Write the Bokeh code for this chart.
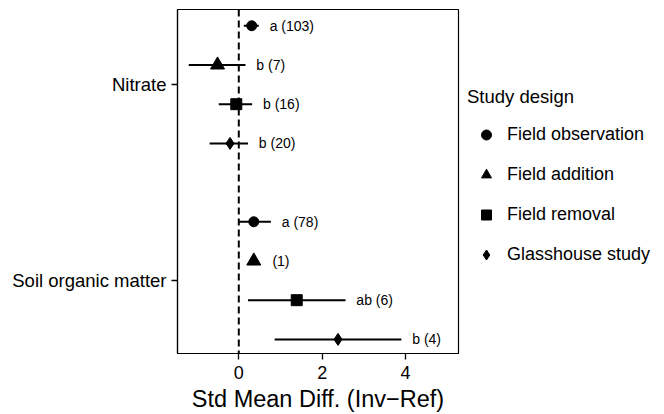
import numpy as np
from bokeh.plotting import figure
from bokeh.models import ColumnDataSource, Range1d, FixedTicker, Span, Legend, LegendItem
from bokeh.embed import file_html
from bokeh.resources import INLINE

# ---- data ----
outcomes = ["Soil organic matter", "Nitrate"]          # bottom -> top
designs = ["Field observation", "Field addition", "Field removal", "Glasshouse study"]
outcome = ["Nitrate"] * 4 + ["Soil organic matter"] * 4
design = designs * 2
mean = [0.31, -0.51, -0.06, -0.21, 0.36, 0.36, 1.39, 2.38]
lower = [0.12, -1.20, -0.48, -0.70, 0.00, np.nan, 0.22, 0.86]
upper = [0.48, 0.16, 0.32, 0.22, 0.77, np.nan, 2.56, 3.90]
letters = ["a", "b", "b", "b", "a", "", "ab", "b"]
n_studies = [103, 7, 16, 20, 78, 1, 6, 4]
x_ticks = [0, 2, 4]

# ---- styles ----
FONT = "Liberation Sans"
marker_of = {"Field observation": "circle", "Field addition": "triangle",
             "Field removal": "square", "Glasshouse study": "diamond"}
size_of = {"Field observation": 10, "Field addition": 14,
           "Field removal": 11, "Glasshouse study": 12}
dodge = 0.2
label_gap = 0.26

# ---- derived positions ----
base = {o: i + 1 for i, o in enumerate(outcomes)}
y = [base[o] + (1.5 - designs.index(d)) * dodge for o, d in zip(outcome, design)]
right_end = [np.nanmax([m, u]) for m, u in zip(mean, upper)]
label_x = [r + label_gap for r in right_end]
labels = [f"{l} ({n})" if l else f"\u00a0\u00a0({n})" for l, n in zip(letters, n_studies)]

src = ColumnDataSource(dict(outcome=outcome, design=design, mean=mean, lower=lower,
                            upper=upper, y=y, label_x=label_x, labels=labels))

p = figure(frame_width=281, frame_height=344, output_backend="svg", toolbar_location=None,
           x_range=Range1d(-1.47, 5.27), y_range=Range1d(0.628, 2.383),
           min_border_left=177, min_border_right=206, min_border_top=9,
           min_border_bottom=56)
p.xgrid.visible = False
p.ygrid.visible = False
p.outline_line_color = "black"
p.outline_line_width = 1.2
p.background_fill_color = "white"

p.add_layout(Span(location=0, dimension="height", line_color="black",
                  line_width=2, line_dash="7 4"))

p.segment(x0="lower", y0="y", x1="upper", y1="y", source=src,
          line_color="black", line_width=2)

renderers = []
for d in designs:
    idx = [i for i, dd in enumerate(design) if dd == d]
    s = ColumnDataSource(dict(x=[mean[i] for i in idx], y=[y[i] for i in idx]))
    r = p.scatter("x", "y", source=s, marker=marker_of[d], size=size_of[d],
                  fill_color="black", line_color="black")
    renderers.append(r)

p.text(x="label_x", y="y", text="labels", source=src, text_align="left",
       text_baseline="middle", text_font_size="14px", text_color="black",
       text_font={"value": FONT})

# axes
p.xaxis.ticker = FixedTicker(ticks=x_ticks)
p.yaxis.ticker = FixedTicker(ticks=[base[o] for o in outcomes])
p.yaxis.major_label_overrides = {base[o]: o for o in outcomes}
for ax in (p.xaxis[0], p.yaxis[0]):
    ax.axis_line_color = "black"
    ax.axis_line_width = 1.2
    ax.major_tick_line_color = "black"
    ax.major_tick_line_width = 1.3
    ax.major_tick_in = 0
    ax.major_tick_out = 6
    ax.minor_tick_line_color = None
    ax.major_label_text_font = FONT
    ax.major_label_text_color = "black"
p.xaxis.major_label_text_font_size = "18px"
p.xaxis.major_label_standoff = 6
p.yaxis.major_label_text_font_size = "18.5px"
p.yaxis.major_label_standoff = 5
p.xaxis.axis_label = "Std Mean Diff. (Inv\u2212Ref)"
p.xaxis.axis_label_text_font = FONT
p.xaxis.axis_label_text_font_size = "23.5px"
p.xaxis.axis_label_text_font_style = "normal"
p.xaxis.axis_label_text_color = "black"
p.xaxis.axis_label_standoff = 4

legend = Legend(items=[LegendItem(label=d, renderers=[r]) for d, r in zip(designs, renderers)],
                location=(9, 86), title="Study design",
                title_text_font=FONT, title_text_font_size="18.5px",
                title_text_font_style="normal", title_text_color="black",
                label_text_font=FONT, label_text_font_size="18px",
                label_text_color="black", glyph_width=38, glyph_height=25,
                label_height=25, spacing=15, label_standoff=2, padding=0,
                margin=0, title_standoff=14, border_line_color=None,
                background_fill_alpha=0)
p.add_layout(legend, "right")

open("out.html", "w").write(file_html(p, INLINE))
